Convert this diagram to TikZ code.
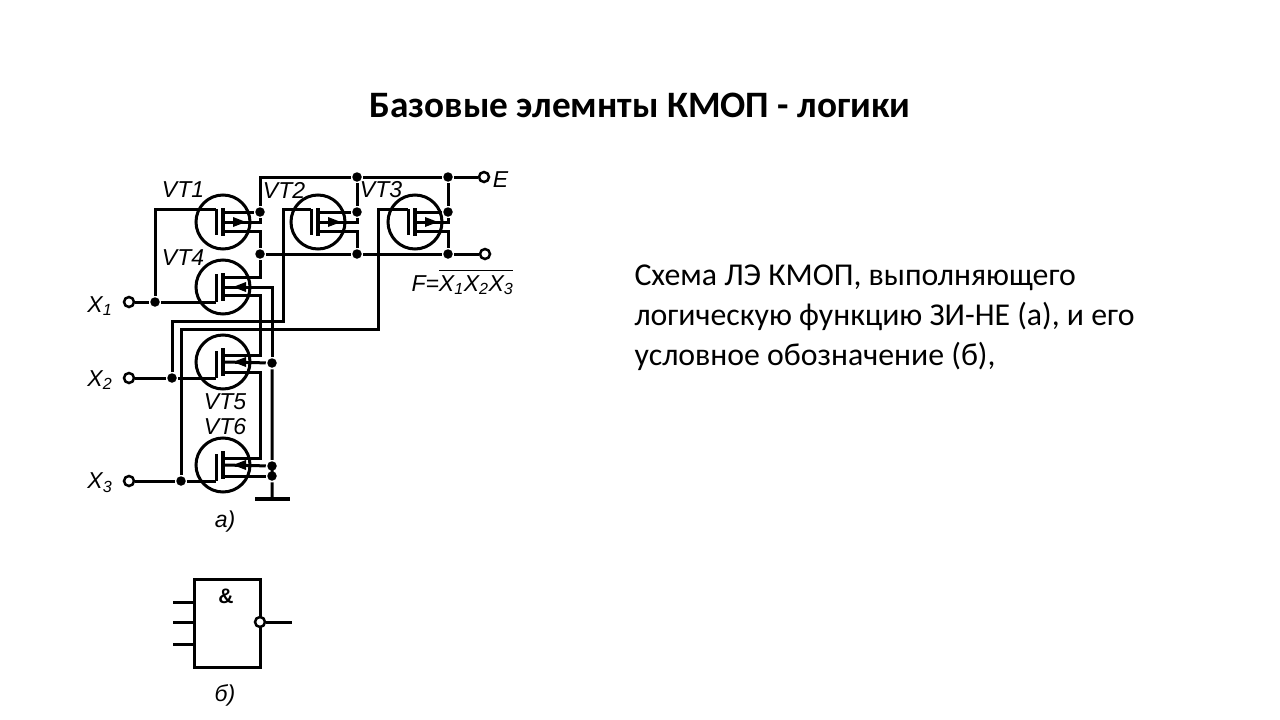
\documentclass[tikz,border=0pt]{standalone}
\usepackage{fontspec}
\setmainfont{Carlito}
\newfontfamily\schemefont{Liberation Sans}
\usetikzlibrary{arrows.meta,positioning}

\begin{document}
\begin{tikzpicture}[x=1pt, y=-1pt, >=Stealth, line width=3pt,
    mos/.style={draw, circle, minimum size=54pt, inner sep=0pt},
    junction/.style={circle, fill=black, inner sep=0pt, minimum size=9.5pt},
    pin/.style={draw, circle, fill=white, inner sep=0pt, minimum size=10pt, line width=2.5pt},
    lbl/.style={inner sep=0pt, font=\schemefont\itshape\fontsize{23}{23}\selectfont},
    slide/.style={inner sep=0pt, align=left, font=\fontsize{31.8}{40}\selectfont}]
  \useasboundingbox (0,0) rectangle (1280,720);

  \node (title) [inner sep=0pt, font=\bfseries\fontsize{37.3}{42}\selectfont] at (640,105.5) {Базовые элемнты КМОП - логики};
  \node (note) [slide, anchor=north west] at (633,263) {Схема ЛЭ КМОП, выполняющего\\логическую функцию ЗИ-НЕ (а), и его\\условное обозначение (б),};

  % transistors: gate high for VT1-3, gate low for VT4-6
  \foreach \n/\cx/\cy/\gy/\gt/\sy/\dy in {1/223/222/-13/13/-10/9, 2/318/222/-13/13/-10/9, 3/415/222/-13/13/-10/9,
      4/223/287/15/-13/-10/8, 5/223/362/16/-11/-7/10, 6/223/465/16/-11/-7/11} {
    \node (vt\n) [mos] at (\cx,\cy) {};
    \coordinate (vt\n g) at (\cx-7,\cy+\gy);
    \coordinate (vt\n t) at (\cx-7,\cy+\gt);
    \coordinate (vt\n s) at (\cx,\cy+\sy);
    \coordinate (vt\n b) at (\cx,\cy);
    \coordinate (vt\n d) at (\cx,\cy+\dy);
    \draw (vt\n g) -- (vt\n t);
    \draw[line width=3.6pt] (\cx,\cy-14) -- (\cx,\cy+14);
  }

  % p-channel tips point to the right, n-channel to the left
  \foreach \n/\cx/\cy in {1/223/222, 2/318/222, 3/415/222}
    \fill (\cx+23,\cy) -- (\cx+10,\cy-5) -- (\cx+10,\cy+5) -- cycle;
  \foreach \n/\cx/\cy in {4/223/287, 5/223/362, 6/223/465}
    \fill (\cx+10,\cy) -- (\cx+23,\cy-5) -- (\cx+23,\cy+5) -- cycle;

  \node (e) [pin] at (484,177) {};
  \node (f) [pin] at (485,254) {};
  \node (x1) [pin] at (129,302) {};
  \node (x2) [pin] at (129,378) {};
  \node (x3) [pin] at (129,481) {};

  \node (s1) [junction] at (260,212) {};
  \node (s2) [junction] at (357,212) {};
  \node (s3) [junction] at (448,212) {};
  \node (v2) [junction] at (357,177) {};
  \node (v3) [junction] at (448,177) {};
  \node (o1) [junction] at (260,254) {};
  \node (o2) [junction] at (357,254) {};
  \node (o3) [junction] at (448,254) {};
  \node (g1) [junction] at (155,302) {};
  \node (g2) [junction] at (172,378) {};
  \node (g3) [junction] at (181,481) {};
  \node (b5) [junction] at (272,363) {};
  \node (b6) [junction] at (272,466) {};
  \node (b7) [junction] at (272,476) {};

  \coordinate (rail) at (260,177);
  \coordinate (k2) at (283,321);
  \coordinate (k3) at (378,329);
  \coordinate (w1) at (260,295);
  \coordinate (w2) at (260,355);
  \coordinate (w3) at (260,372);
  \coordinate (w4) at (260,458);
  \coordinate (gnd) at (272,499);
  \coordinate (gndl) at (255,499);
  \coordinate (gndr) at (290,499);

  % supply and output rails
  \draw (e) -- (v3) -- (v2) -- (rail) -- (s1);
  \draw (v2) -- (s2);
  \draw (v3) -- (s3);
  \draw (f) -- (o3) -- (o2) -- (o1);

  % upper row
  \foreach \n in {1,2,3} {
    \draw (vt\n s) -- (s\n);
    \draw (vt\n b) -| (s\n);
    \draw (vt\n d) -| (o\n);
  }

  % lower stack
  \draw (vt4s) -| (o1);
  \draw (vt4d) -- (w1) -- (w2) -- (vt5s);
  \draw (vt5d) -- (w3) -- (w4) -- (vt6s);
  \draw (vt4b) -| (b5);
  \draw (vt5b) -- (b5) -- (b6) -- (b7) -- (gnd);
  \draw (vt6b) -- (b6);
  \draw (vt6d) -- (b7);
  \draw[line width=4pt] (gndl) -- (gndr);

  % gate leads
  \draw (x1) -- (g1) -- (vt4g);
  \draw (g1) |- (vt1g);
  \draw (x2) -- (g2) -- (vt5g);
  \draw (g2) |- (k2) |- (vt2g);
  \draw (x3) -- (g3) -- (vt6g);
  \draw (g3) |- (k3) |- (vt3g);

  \node (vt1l) [lbl] at (183,190) {VT1};
  \node (vt2l) [lbl] at (284,190) {VT2};
  \node (vt3l) [lbl] at (381,190) {VT3};
  \node (vt4l) [lbl] at (183,258) {VT4};
  \node (vt5l) [lbl] at (225,402) {VT5};
  \node (vt6l) [lbl] at (225,427) {VT6};
  \node (x1l) [lbl, left=9pt of x1, yshift=-4pt] {X\textsubscript{1}};
  \node (x2l) [lbl, left=9pt of x2, yshift=-2pt] {X\textsubscript{2}};
  \node (x3l) [lbl, left=9pt of x3, yshift=-2pt] {X\textsubscript{3}};
  \node (el) [lbl, right=1pt of e, yshift=-3pt] {E};
  \node (fl) [lbl, anchor=base west] at (410,291) {F=$\overline{\mbox{\rule{0pt}{19pt}\schemefont\itshape X\textsubscript{1}X\textsubscript{2}X\textsubscript{3}}}$};
  \node (la) [lbl] at (225,522) {а)};

  % symbol
  \node (nand) [draw, rectangle, minimum width=66pt, minimum height=88pt, inner sep=0pt] at (227,623) {};
  \node (amp) [lbl, font=\schemefont\bfseries\fontsize{21}{21}\selectfont] at (226,596) {\&};
  \node (bub) [pin] at (260,622) {};
  \coordinate (in1) at (173,602);
  \coordinate (in2) at (173,622);
  \coordinate (in3) at (173,644);
  \coordinate (out) at (292,622);
  \draw (in1) -- (in1 -| nand.west);
  \draw (in2) -- (in2 -| nand.west);
  \draw (in3) -- (in3 -| nand.west);
  \draw (bub) -- (out);
  \node (lb) [lbl] at (225,695) {б)};
\end{tikzpicture}
\end{document}
